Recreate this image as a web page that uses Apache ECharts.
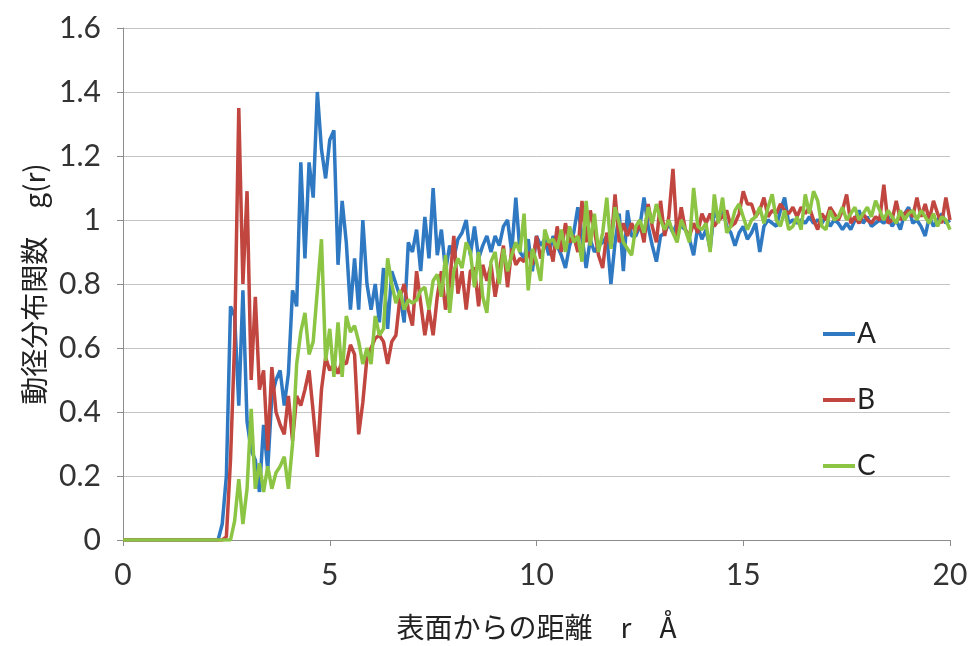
<!DOCTYPE html>
<html>
<head>
<meta charset="utf-8">
<script src="https://cdn.jsdelivr.net/npm/echarts@6/dist/echarts.min.js"></script>
<style>
html,body{margin:0;padding:0;background:#fff;}
#chart{width:973px;height:646px;}
</style>
</head>
<body>
<div id="chart"></div>
<script>
// radial distance grid r (Å), step 0.1 from 0 to 20
const rStep = 0.1;
const rCount = 201;
const r = Array.from({length: rCount}, (_, i) => +(i * rStep).toFixed(1));

const seriesNames = ['A', 'B', 'C'];

const gA = [
0,0,0,0,0,0,0,0,0,0,
0,0,0,0,0,0,0,0,0,0,
0,0,0,0,0.05,0.2,0.73,0.70,0.42,0.78,
0.37,0.28,0.25,0.15,0.36,0.22,0.45,0.50,0.53,0.42,
0.52,0.78,0.73,1.18,0.88,1.18,1.07,1.40,1.22,1.13,
1.25,1.28,0.86,1.06,0.93,0.72,0.88,0.72,1.00,0.80,
0.72,0.80,0.68,0.85,0.66,0.84,0.80,0.76,0.68,0.93,
0.90,0.97,0.84,1.01,0.88,1.10,0.89,0.97,0.84,0.92,
0.88,0.94,0.96,1.00,0.89,0.98,0.88,0.92,0.95,0.90,
0.95,0.92,0.98,1.00,0.90,1.07,0.90,0.88,0.94,0.84,
0.95,0.92,0.94,0.89,0.95,0.92,0.89,0.85,0.92,0.96,
1.04,0.95,0.85,0.94,0.90,0.92,0.93,0.95,0.80,0.93,
1.02,0.84,1.03,0.95,0.95,0.98,1.07,0.98,0.92,0.87,
0.95,0.96,0.99,0.96,0.99,0.98,0.97,0.94,0.89,0.98,
0.94,0.97,0.91,1.03,1.00,1.04,0.98,0.96,0.92,0.96,
0.98,0.94,0.96,0.99,0.90,0.98,1.00,0.99,0.98,1.03,
1.07,0.99,1.00,0.99,1.00,0.99,1.01,0.99,1.00,0.99,
1.01,0.98,1.00,0.99,0.97,0.99,0.97,1.00,1.03,0.99,
1.01,0.98,0.99,1.00,0.99,1.01,0.98,1.00,0.97,1.02,
1.04,0.99,1.00,0.98,0.95,1.01,0.98,1.00,1.02,0.99,
1.00
];

const gB = [
0,0,0,0,0,0,0,0,0,0,
0,0,0,0,0,0,0,0,0,0,
0,0,0,0,0,0.01,0.25,0.62,1.35,0.80,
1.09,0.50,0.76,0.47,0.53,0.28,0.54,0.40,0.36,0.33,
0.45,0.31,0.45,0.42,0.47,0.53,0.40,0.26,0.47,0.57,
0.53,0.55,0.52,0.56,0.55,0.61,0.58,0.33,0.43,0.57,
0.60,0.63,0.64,0.62,0.55,0.62,0.64,0.76,0.80,0.72,
0.67,0.84,0.74,0.64,0.72,0.64,0.76,0.84,0.72,0.80,
0.95,0.77,0.84,0.72,0.84,0.85,0.73,0.86,0.81,0.86,
0.76,0.84,0.92,0.79,0.91,0.86,0.88,0.87,0.90,0.86,
0.95,0.88,0.92,0.93,0.87,0.98,0.90,0.99,0.93,0.95,
0.90,1.06,0.93,1.03,0.97,0.89,0.85,0.96,0.92,1.08,
0.93,0.99,0.95,0.99,0.96,0.99,0.93,1.05,0.98,0.93,
1.06,0.95,1.01,1.16,0.95,1.04,0.97,0.95,0.99,0.96,
1.02,0.99,1.02,0.98,1.00,1.01,1.03,0.98,0.99,1.02,
1.09,1.05,1.05,1.01,1.03,1.07,1.01,1.03,1.02,1.05,
1.03,1.02,1.04,1.01,1.04,1.02,1.04,1.00,0.97,1.02,
1.00,1.04,1.02,1.00,1.03,1.08,0.99,1.01,0.99,1.02,
1.00,0.99,1.01,1.00,1.11,0.99,1.00,1.06,1.00,1.02,
1.03,1.01,1.07,1.01,1.05,1.00,1.06,1.02,0.99,1.07,
1.00
];

const gC = [
0,0,0,0,0,0,0,0,0,0,
0,0,0,0,0,0,0,0,0,0,
0,0,0,0,0,0,0,0.06,0.19,0.05,
0.16,0.41,0.16,0.24,0.15,0.23,0.16,0.21,0.23,0.26,
0.16,0.30,0.55,0.65,0.71,0.58,0.62,0.78,0.94,0.56,
0.66,0.51,0.68,0.51,0.70,0.65,0.67,0.62,0.55,0.60,
0.55,0.70,0.64,0.66,0.88,0.80,0.74,0.78,0.72,0.75,
0.74,0.75,0.78,0.79,0.72,0.81,0.83,0.76,0.89,0.71,
0.84,0.88,0.85,0.93,0.90,0.79,0.90,0.76,0.71,0.87,
0.90,0.80,0.91,0.84,0.89,0.93,0.90,1.02,0.78,0.91,
0.87,0.81,0.97,0.93,0.94,0.91,0.97,0.90,0.98,0.93,
0.95,0.87,1.06,0.92,1.02,0.90,0.96,1.07,0.91,1.04,
0.99,0.93,0.91,0.89,0.98,1.00,0.96,1.04,0.99,1.05,
1.00,0.97,1.00,0.96,0.93,1.00,0.97,0.93,1.10,0.98,
0.97,0.99,0.90,1.08,0.99,1.07,0.96,0.98,1.03,1.05,
1.01,0.97,1.00,1.01,1.04,0.99,1.04,1.08,1.00,0.98,
1.03,0.97,0.98,1.01,0.97,1.08,1.02,1.09,1.06,0.98,
0.97,1.03,1.00,1.01,1.04,1.00,1.02,1.04,1.00,1.02,
1.04,1.01,1.06,1.03,1.00,1.03,1.01,0.99,1.03,1.00,
1.02,1.03,1.00,1.03,1.01,0.99,1.02,0.98,1.01,1.00,
0.97
];

const xTicks = [0, 5, 10, 15, 20];
const yTicks = [0, 0.2, 0.4, 0.6, 0.8, 1, 1.2, 1.4, 1.6];

const colors = ['#2f78c2', '#c0463f', '#8cc443'];
const values = [gA, gB, gC];

const chart = echarts.init(document.getElementById('chart'), null, {renderer: 'canvas'});
const tickFont = 'Lato, "Noto Sans", sans-serif';
const cjkFont = '"Noto Sans CJK JP", sans-serif';

chart.setOption({
  backgroundColor: '#ffffff',
  animation: false,
  color: colors,
  grid: {left: 123, right: 23, top: 28, bottom: 105, containLabel: false},
  legend: {
    data: seriesNames,
    orient: 'vertical',
    left: 818,
    top: 314,
    icon: 'rect',
    itemWidth: 32,
    itemHeight: 4,
    itemGap: 36,
    textStyle: {fontSize: 28, lineHeight: 30, color: '#222', fontFamily: tickFont, padding: [0,0,0,-3]}
  },
  xAxis: {
    type: 'value',
    min: xTicks[0],
    max: xTicks[xTicks.length - 1],
    interval: 5,
    name: '表面からの距離　r　Å',
    nameLocation: 'middle',
    nameGap: 73,
    nameTextStyle: {fontSize: 28, color: '#222', fontFamily: cjkFont},
    axisLine: {show: true, lineStyle: {color: '#8c8c8c', width: 1}},
    axisTick: {show: true, inside: false, length: 6, lineStyle: {color: '#8c8c8c'}},
    axisLabel: {fontSize: 30, color: '#333', fontFamily: tickFont, margin: 20},
    splitLine: {show: false}
  },
  yAxis: {
    type: 'value',
    min: yTicks[0],
    max: yTicks[yTicks.length - 1],
    interval: 0.2,
    name: '動径分布関数　g(r)',
    nameLocation: 'middle',
    nameRotate: 90,
    nameGap: 61,
    nameTextStyle: {fontSize: 28, color: '#222', fontFamily: cjkFont},
    axisLine: {show: true, lineStyle: {color: '#8c8c8c', width: 1}},
    axisTick: {show: true, inside: false, length: 6, lineStyle: {color: '#8c8c8c'}},
    axisLabel: {fontSize: 30, color: '#333', fontFamily: tickFont, margin: 22},
    splitLine: {show: true, lineStyle: {color: '#c4c4c4', width: 1}}
  },
  series: seriesNames.map((name, k) => ({
    name: name,
    type: 'line',
    showSymbol: false,
    symbol: 'none',
    smooth: false,
    lineStyle: {width: 3.5, color: colors[k]},
    itemStyle: {color: colors[k]},
    data: r.map((x, i) => [x, values[k][i]])
  }))
});
</script>
</body>
</html>
